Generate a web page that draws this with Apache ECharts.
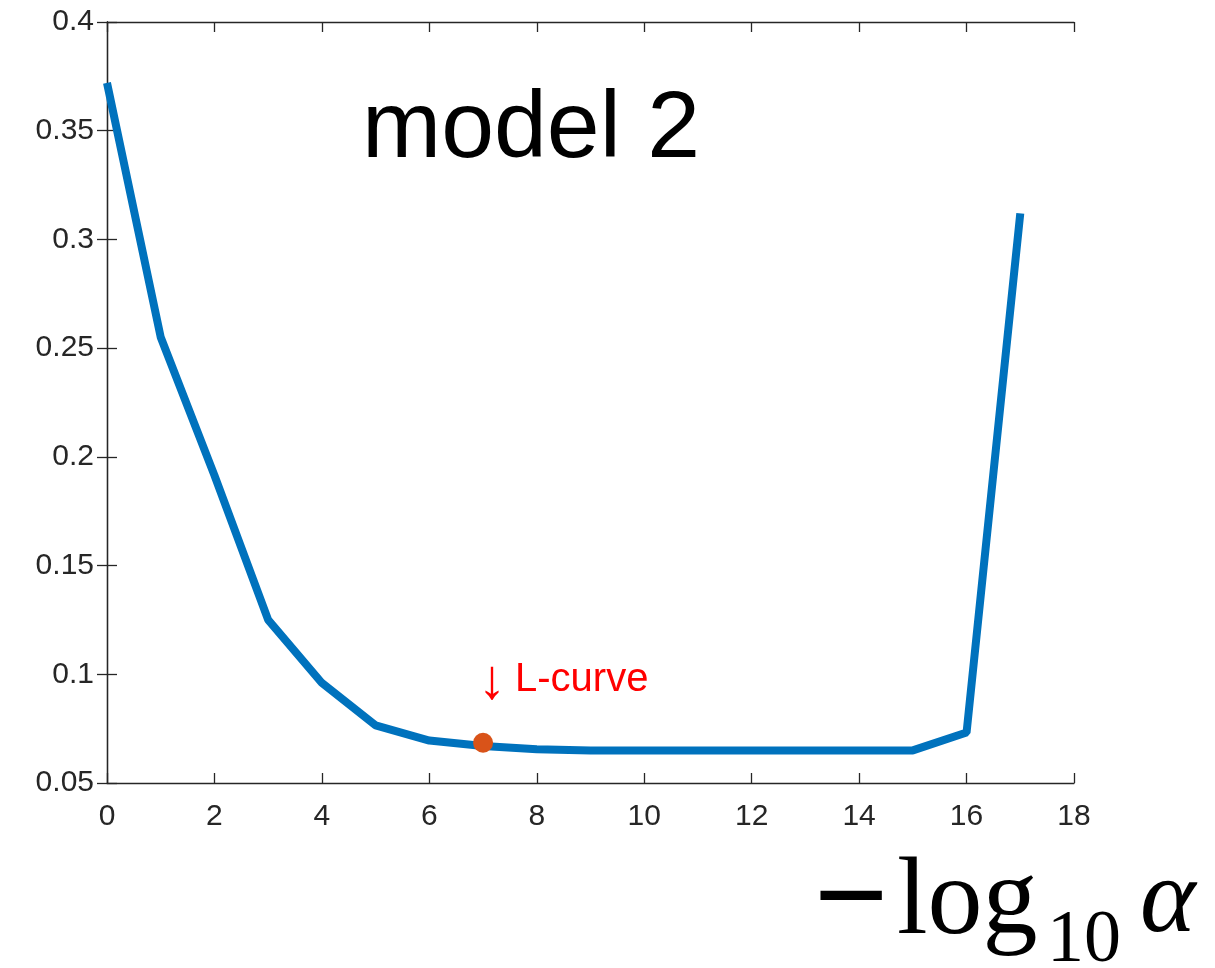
<!DOCTYPE html>
<html>
<head>
<meta charset="utf-8">
<script src="https://cdn.jsdelivr.net/npm/echarts@6/dist/echarts.min.js"></script>
<style>html,body{margin:0;padding:0;background:#fff}#c{width:1215px;height:968px}</style>
</head>
<body>
<div id="c"></div>
<script>
const xValues = [0,1,2,3,4,5,6,7,8,9,10,11,12,13,14,15,16,17];
const yValues = [0.372,0.255,0.1915,0.125,0.096,0.0765,0.0695,0.067,0.0655,0.065,0.065,0.065,0.065,0.065,0.065,0.065,0.0732,0.312];
const markerX = [7];
const markerY = [0.0685];
const xTicks = {min:0, max:18, interval:2};
const yTicks = {min:0.05, max:0.4, interval:0.05};
const titleText = 'model 2';
const annotArrow = '↓';
const annotText = 'L-curve';

const chart = echarts.init(document.getElementById('c'));
const axisCol = '#262626';
const lineData = xValues.map((x,i)=>[x,yValues[i]]);
const markData = markerX.map((x,i)=>[x,markerY[i]]);
const commonX = {type:'value', min:xTicks.min, max:xTicks.max, interval:xTicks.interval,
  axisLine:{show:true,lineStyle:{color:axisCol,width:1.3}},
  axisTick:{show:true,inside:true,length:10,lineStyle:{color:axisCol,width:1.3}},
  splitLine:{show:false}};
const commonY = {type:'value', min:yTicks.min, max:yTicks.max, interval:yTicks.interval,
  axisLine:{show:true,lineStyle:{color:axisCol,width:1.3}},
  axisTick:{show:true,inside:true,length:10,lineStyle:{color:axisCol,width:1.3}},
  splitLine:{show:false}};
chart.setOption({
  animation:false,
  backgroundColor:'#fff',
  grid:{left:107, top:22, width:967, height:761},
  xAxis:[
    Object.assign({}, commonX, {position:'bottom', axisLabel:{color:axisCol,fontSize:30,fontFamily:'Liberation Sans',margin:19}}),
    Object.assign({}, commonX, {position:'top', axisLabel:{show:false}})
  ],
  yAxis:[
    Object.assign({}, commonY, {position:'left', axisLabel:{color:axisCol,fontSize:30,fontFamily:'Liberation Sans',margin:13}}),
    Object.assign({}, commonY, {position:'right', axisLabel:{show:false}})
  ],
  series:[
    {type:'line', data:lineData, showSymbol:false, symbol:'none', lineStyle:{color:'#0072BD',width:8}, z:2},
    {type:'scatter', data:markData, symbol:'circle', symbolSize:20, itemStyle:{color:'#D95319',opacity:1}, z:3}
  ],
  graphic:[
    {type:'text', position:[531,131], style:{text:titleText, font:'95px "Liberation Sans"', fill:'#000', align:'center', verticalAlign:'middle'}},
    {type:'text', position:[492,683], style:{text:annotArrow, font:'56px "Liberation Sans"', fill:'#FF0000', align:'center', verticalAlign:'middle'}},
    {type:'text', position:[851,905], style:{text:'−', font:'bold 132px "Liberation Serif"', fill:'#000', align:'center', verticalAlign:'middle'}},
    {type:'text', position:[515,680], style:{text:annotText, font:'40px "Liberation Sans"', fill:'#FF0000', align:'left', verticalAlign:'middle'}},
    {type:'text', position:[897,904], style:{text:'log', font:'110px "Liberation Serif"', fill:'#000', align:'left', verticalAlign:'middle'}},
    {type:'text', position:[1047,942], style:{text:'10', font:'74px "Liberation Serif"', fill:'#000', align:'left', verticalAlign:'middle'}},
    {type:'text', position:[1140,903], style:{text:'α', font:'italic 106px "Liberation Serif"', fill:'#000', align:'left', verticalAlign:'middle'}}
  ]
});
</script>
</body>
</html>
